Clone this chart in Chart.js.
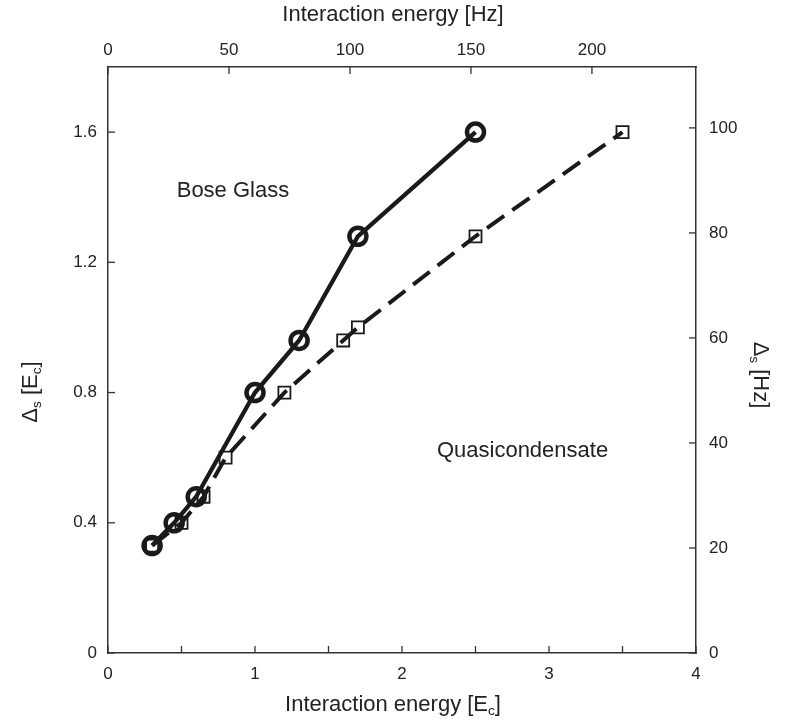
<!DOCTYPE html>
<html>
<head>
<meta charset="utf-8">
<script src="https://cdn.jsdelivr.net/npm/chart.js@4/dist/chart.umd.min.js"></script>
<style>
  html, body { margin: 0; padding: 0; background: #fff; }
  #wrap { width: 792px; height: 726px; }
</style>
</head>
<body>
<div id="wrap"><canvas id="glassChart" width="792" height="726"></canvas></div>
<script>
// Bose glass (kruzici, puna linija)
const glassX = [0.3, 0.45, 0.6, 1.0, 1.3, 1.7, 2.5];
const glassY = [0.33, 0.40, 0.48, 0.80, 0.96, 1.28, 1.60];

// Quasicondensate granica (kvadratici, isprekidana linija)
const quasiX = [0.3, 0.5, 0.65, 0.8, 1.2, 1.6, 1.7, 2.5, 3.5];
const quasiY = [0.33, 0.40, 0.48, 0.60, 0.80, 0.96, 1.00, 1.28, 1.60];

// Ose
const ecTicks = [0, 1, 2, 3, 4];
const ecMinorTicks = [0, 0.5, 1, 1.5, 2, 2.5, 3, 3.5, 4];
const hzTopTicks = [0, 50, 100, 150, 200];
const deltaEcTicks = [0, 0.4, 0.8, 1.2, 1.6];
const deltaHzTicks = [0, 20, 40, 60, 80, 100];

// Tekstovi u grafikonu
const regionNames = ['Bose Glass', 'Quasicondensate'];
const regionAt = [[0.85, 1.42], [2.82, 0.62]];

const FONT = '"Liberation Sans", Arial, Helvetica, sans-serif';
const INK = '#1a1a1a';

function pts(xs, ys) {
    return xs.map((x, i) => ({ x: x, y: ys[i] }));
}

// crta tekst sa indeksima (subscript), centriran u (0,0)
function richText(ctx, parts, size) {
    let total = 0;
    parts.forEach(p => {
        ctx.font = (p.sub ? size * 0.62 : size) + 'px ' + FONT;
        p.w = ctx.measureText(p.t).width;
        total += p.w;
    });
    let x = -total / 2;
    parts.forEach(p => {
        ctx.font = (p.sub ? size * 0.62 : size) + 'px ' + FONT;
        ctx.fillText(p.t, x, p.sub ? size * 0.3 : 0);
        x += p.w;
    });
}

const decor = {
    id: 'decor',
    afterDraw(chart) {
        const ctx = chart.ctx;
        const a = chart.chartArea;
        const s = chart.scales;
        ctx.save();
        ctx.strokeStyle = '#333';
        ctx.lineWidth = 1.3;
        const len = 7;
        // podeoci okrenuti ka unutra
        s.x.ticks.forEach(t => {
            const p = s.x.getPixelForValue(t.value);
            ctx.beginPath(); ctx.moveTo(p, a.bottom); ctx.lineTo(p, a.bottom - len); ctx.stroke();
        });
        s.x2.ticks.forEach(t => {
            const p = s.x2.getPixelForValue(t.value);
            ctx.beginPath(); ctx.moveTo(p, a.top); ctx.lineTo(p, a.top + len); ctx.stroke();
        });
        s.y.ticks.forEach(t => {
            const p = s.y.getPixelForValue(t.value);
            ctx.beginPath(); ctx.moveTo(a.left, p); ctx.lineTo(a.left + len, p); ctx.stroke();
        });
        s.y2.ticks.forEach(t => {
            const p = s.y2.getPixelForValue(t.value);
            ctx.beginPath(); ctx.moveTo(a.right, p); ctx.lineTo(a.right - len, p); ctx.stroke();
        });

        ctx.fillStyle = '#222';
        ctx.textBaseline = 'middle';
        ctx.textAlign = 'left';
        const size = 22;
        const cx = (a.left + a.right) / 2 - 9;

        ctx.save();
        ctx.translate(cx, 15);
        richText(ctx, [{ t: 'Interaction energy [Hz]' }], size);
        ctx.restore();

        ctx.save();
        ctx.translate(cx, 705);
        richText(ctx, [{ t: 'Interaction energy [E' }, { t: 'c', sub: true }, { t: ']' }], size);
        ctx.restore();

        ctx.save();
        ctx.translate(31, 392);
        ctx.rotate(-Math.PI / 2);
        richText(ctx, [{ t: '\u0394' }, { t: 's', sub: true }, { t: ' [E' }, { t: 'c', sub: true }, { t: ']' }], size);
        ctx.restore();

        ctx.save();
        ctx.translate(760, 375);
        ctx.rotate(Math.PI / 2);
        richText(ctx, [{ t: '\u0394' }, { t: 's', sub: true }, { t: ' [Hz]' }], size);
        ctx.restore();

        // nazivi oblasti
        regionNames.forEach((name, i) => {
            ctx.save();
            ctx.translate(s.x.getPixelForValue(regionAt[i][0]), s.y.getPixelForValue(regionAt[i][1]));
            richText(ctx, [{ t: name }], size);
            ctx.restore();
        });
        ctx.restore();
    }
};

function fixedTicks(list) {
    return function (scale) {
        scale.ticks = list.map(v => ({ value: v }));
    };
}

const tickFont = { family: FONT, size: 17 };
const noGrid = { display: false, drawTicks: false };
const frame = { display: true, color: '#333', width: 1.5 };

new Chart(document.getElementById('glassChart').getContext('2d'), {
    type: 'scatter',
    data: {
        datasets: [{
            label: 'Quasicondensate',
            data: pts(quasiX, quasiY),
            showLine: true,
            borderColor: INK,
            borderWidth: 4,
            borderDash: [21, 10],
            pointStyle: 'rect',
            pointRadius: 8.5,
            pointBorderWidth: 1.8,
            pointBorderColor: INK,
            pointBackgroundColor: 'rgba(255,255,255,0)',
            xAxisID: 'x',
            yAxisID: 'y'
        }, {
            label: 'Bose Glass',
            data: pts(glassX, glassY),
            showLine: true,
            borderColor: INK,
            borderWidth: 4.3,
            pointStyle: 'circle',
            pointRadius: 8.5,
            pointBorderWidth: 4.5,
            pointBorderColor: INK,
            pointBackgroundColor: 'rgba(255,255,255,0)',
            xAxisID: 'x',
            yAxisID: 'y'
        }]
    },
    options: {
        responsive: false,
        animation: false,
        events: [],
        layout: { padding: 0 },
        plugins: { legend: { display: false }, tooltip: { enabled: false } },
        scales: {
            x: {
                type: 'linear', position: 'bottom', min: 0, max: 4,
                afterFit(s) { s.height = 73; },
                afterBuildTicks: fixedTicks(ecMinorTicks),
                ticks: {
                    autoSkip: false, maxRotation: 0, padding: 11, color: '#222', font: tickFont,
                    callback: v => (ecTicks.includes(v) ? String(v) : '')
                },
                grid: noGrid,
                border: frame
            },
            x2: {
                type: 'linear', position: 'top', min: 0, max: 243,
                afterFit(s) { s.height = 67; },
                afterBuildTicks: fixedTicks(hzTopTicks),
                ticks: { autoSkip: false, maxRotation: 0, padding: 6, color: '#222', font: tickFont },
                grid: noGrid,
                border: frame
            },
            y: {
                type: 'linear', position: 'left', min: 0, max: 1.8,
                afterFit(s) { s.width = 108; },
                afterBuildTicks: fixedTicks(deltaEcTicks),
                ticks: { autoSkip: false, padding: 11, color: '#222', font: tickFont },
                grid: noGrid,
                border: frame
            },
            y2: {
                type: 'linear', position: 'right', min: 0, max: 111.6,
                afterFit(s) { s.width = 96; },
                afterBuildTicks: fixedTicks(deltaHzTicks),
                ticks: { autoSkip: false, padding: 13, color: '#222', font: tickFont },
                grid: noGrid,
                border: frame
            }
        }
    },
    plugins: [decor]
});
</script>
</body>
</html>
